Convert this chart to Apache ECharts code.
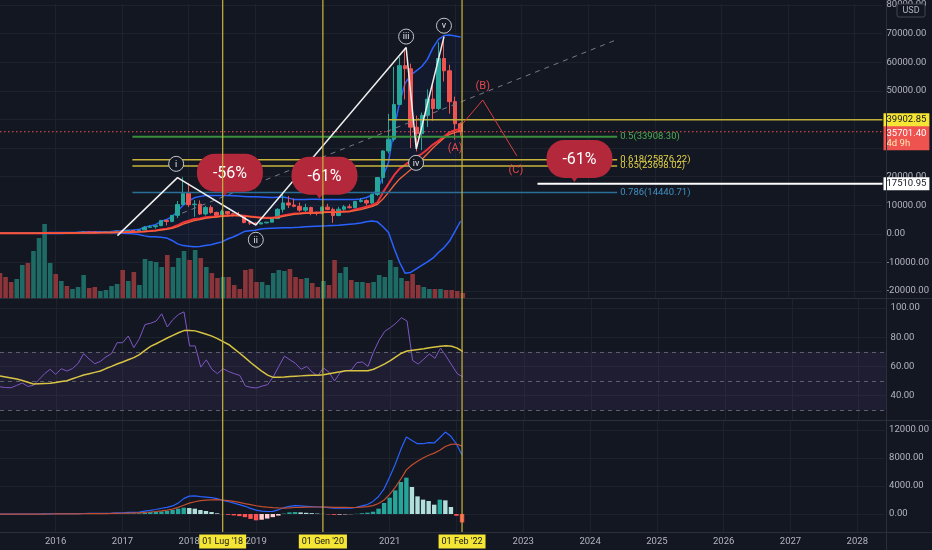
<!DOCTYPE html>
<html><head><meta charset="utf-8">
<script src="https://cdn.jsdelivr.net/npm/echarts@6/dist/echarts.min.js"></script>
<style>html,body{margin:0;padding:0;background:#131722;}#c{width:932px;height:550px;}</style>
</head><body><div id="c"></div>
<script>
// ---------- categories (monthly, from Mar 2015) ----------
const START_YEAR = 2015, START_MONTH = 3, N_CATS = 160;
const months = [];
for (let k = 0; k < N_CATS; k++) {
  const m = START_MONTH - 1 + k;
  months.push((START_YEAR + Math.floor(m / 12)) + '-' + String(m % 12 + 1).padStart(2, '0'));
}

// ---------- BTCUSD monthly OHLC [open, high, low, close] ----------
const ohlc = [
[254,300,235,244],[244,261,215,236],[236,248,228,230],[230,267,221,263],[263,318,255,284],[284,285,198,230],[230,245,225,236],[236,335,235,314],[314,502,309,377],[377,466,350,430],
[430,463,350,369],[369,446,366,437],[437,439,393,416],[416,467,414,448],[448,550,437,531],[531,778,524,673],[673,704,606,624],[624,627,480,574],[574,628,570,609],[609,720,604,700],
[700,755,685,745],[745,980,741,964],[964,1153,755,960],[960,1211,940,1190],[1190,1290,890,1071],[1071,1384,1062,1348],[1348,2763,1337,2286],[2286,2999,2138,2480],[2480,2916,1830,2875],[2875,4770,2690,4703],
[4703,5000,2975,4338],[4338,6470,4110,6468],[6468,11500,5510,10233],[10233,19800,10100,14156],[14156,17712,9400,10221],[10221,11790,6000,10397],[10397,11710,6600,6973],[6973,9760,6430,9240],[9240,9990,7040,7494],[7494,7760,5755,6404],
[6404,8480,6070,7780],[7780,7800,5880,7037],[7037,7410,6100,6625],[6625,7680,6200,6317],[6317,6550,3650,4017],[4017,4300,3130,3742],[3742,4070,3400,3457],[3457,4200,3390,3854],[3854,4120,3670,4105],[4105,5600,4060,5350],
[5350,9000,5330,8574],[8574,13880,7450,10817],[10817,13200,9060,10085],[10085,12330,9320,9630],[9630,10950,7710,8293],[8293,10540,7300,9199],[9199,9500,6520,7569],[7569,7750,6430,7193],[7193,9580,6850,9350],[9350,10500,8450,8543],
[8543,9190,3850,6410],[6410,9470,6150,8630],[8630,10070,8110,9450],[9450,10390,8900,9140],[9140,11450,8980,11330],[11330,12480,10980,11650],[11650,12060,9880,10780],[10780,14100,10370,13800],[13800,19860,13200,19700],[19700,29300,17570,28990],
[28990,41950,28130,33110],[33110,58350,32300,45240],[45240,61780,45000,58800],[58800,64900,47000,57720],[57720,59500,30000,37300],[37300,41330,28800,35040],[35040,42400,29280,41460],[41460,50500,37330,47100],[47100,52920,39600,43820],[43820,67000,43280,61300],
[61300,69000,53250,57000],[57000,59100,42000,46210],[46210,47990,32950,38480],[38480,39000,34300,35701.40]
];
// volume (relative units)
const volume = [25,21,16,19,33,35,47,60,74,35, 24,17,12,9,11,23,10,11,7,8, 12,14,28,17,26,13,39,37,36,31, 43,31,40,47,38,48,40,31,25,20,
 21,21,13,9,28,29,16,16,13,25, 28,27,29,21,19,20,15,11,17,13, 38,25,31,18,16,16,15,16,23,21, 38,31,20,17,24,13,11,9,9,9, 8,8,7,5];
// Bollinger bands
const bbUpper = [320,310,290,290,310,320,320,350,420,460, 480,490,490,490,540,700,760,770,760,760, 800,980,1080,1250,1320,1500,2300,2800,3200,4300,
 5000,6000,8000,10000,11500,12600,13100,13400,13400,13400, 13400,13400,13300,13200,13100,13000,13000,12900,12800,12700, 12800,12900,12500,12000,12000,12000,12100,12100,12000,12000,
 12000,12000,12000,12000,12000,12200,12700,13500,15500,20000, 25000,37000,46000,52700,55500,57000,58500,61000,65000,68000, 69300,69500,69200,68800];
const bbLower = [180,190,200,200,210,200,200,190,160,140, 150,170,190,210,250,250,300,380,450,480, 400,300,200,100,0,-200,-700,-1000,-1000,-1200,
 -1400,-2300,-3500,-4100,-4300,-4500,-4400,-4100,-3800,-3300, -2800,-1800,-1100,-200,800,1100,1300,1700,1900,2000, 2050,2100,2150,2200,2300,2500,2600,2700,2750,2800,
 2900,3000,3200,3400,3500,3800,4200,4500,4200,2500, 500,-5000,-10000,-13800,-13500,-12200,-11000,-9800,-8500,-6500, -4800,-2500,1000,4500];
// moving averages (two red lines)
const maFast = [260,255,250,252,255,253,252,258,270,285, 293,305,313,323,340,370,393,410,428,453, 480,525,565,620,665,730,870,1020,1200,1530,
 1800,2250,3000,4000,4600,5200,5400,5800,6000,6100, 6300,6400,6500,6500,6300,6100,5900,5700,5600,5600, 5900,6400,6800,7100,7200,7400,7400,7400,7600,7700,
 7600,7700,7800,7900,8500,9000,9500,10000,11000,14500, 17500,20500,22800,24100,25500,26900,28000,29500,31200,32500, 34000,35500,36300,36600];
const maSlow = [255,252,248,248,250,250,250,254,262,275, 283,293,302,312,326,352,375,392,410,433, 458,498,535,585,630,690,800,930,1080,1350,
 1600,1950,2550,3400,4000,4600,5000,5400,5700,5900, 6100,6300,6400,6400,6200,6000,5800,5600,5500,5500, 5700,6100,6500,6800,7000,7200,7300,7300,7400,7500,
 7500,7600,7700,7800,8100,8500,9000,9500,10300,12200, 14500,17000,19200,20800,22500,24300,26000,28000,30000,31800, 33500,34800,35500,35900];
// RSI and its moving average
const rsi = [46,45.5,45.4,47,48.6,46.3,47,51,55,58, 54.5,58.4,56.8,58.5,62,68.7,65,61.8,63.4,66.5, 68.7,76.2,76.2,80.8,72.8,79,88.6,89.5,91,96,
 87,92,95.5,97.3,74,74,59.5,64.5,58,55, 58.4,56.5,55,53.8,46.6,45.6,45.2,46.5,47.5,52.8, 60,67,64.5,62,58,60,56,53.5,59,56,
 50,55.8,57,57.5,62.6,63,60,70,78,84, 86.5,89.5,93.3,91,64,61.6,65,68.5,65.5,72.5, 67,61,55,52.8];
const rsiMa = [53.4,52.8,52.1,51.4,50.3,49.1,47.9,48.1,48.3,48.4, 49,49.6,50.2,51.5,52.8,54.1,55,55.9,56.8,58.5, 60,61.6,63,64.5,66,68,71,73.7,75.5,77.5,
 79.4,81.2,83,84.5,84.6,84.3,83.2,82,80.7,79, 77,75,72,69,65.8,62.5,59.5,56.5,54,52.5, 52.6,52.8,53.1,53.3,53.5,53.7,53.9,54,54.3,55,
 55.7,56.3,57,57,57,57,57,58,59.8,61.7, 64,66.5,69,70.5,71,71.5,72,72.8,73.3,73.8, 74.2,73.8,72.5,70.1];
// MACD
const macd = [-20,-25,-28,-25,-18,-20,-20,-10,10,30, 35,40,40,42,48,70,80,85,90,100, 115,150,180,220,240,280,420,520,640,820,
 950,1150,1550,2200,2550,2600,2480,2420,2350,2200, 1950,1780,1550,1350,1100,800,550,400,360,380, 600,900,1100,1200,1150,1100,1050,1000,1000,920,
 850,850,850,850,950,1150,1350,1800,2500,3600, 5300,7100,9200,11000,10500,10040,10040,10200,10150,10900, 11700,11100,10000,8400];
const macdSignal = [-10,-15,-18,-20,-20,-20,-20,-18,-12,-3, 5,12,18,23,28,37,45,53,60,68, 77,92,110,130,150,175,225,285,355,450,
 550,700,950,1250,1550,1750,1900,1980,2030,2040, 2000,1900,1800,1650,1480,1330,1180,1050,980,920, 870,850,880,930,950,980,1000,1000,1000,990,
 960,950,940,930,950,990,1050,1200,1500,2000, 2800,3800,5000,6300,7000,7550,8000,8400,8700,9100, 9650,9950,10000,9700];
const macdHist = [-10,-10,-10,-5,2,0,0,8,22,33, 30,28,22,19,20,33,35,32,30,32, 38,58,70,90,90,105,195,280,330,370,
 430,570,760,900,850,760,570,430,280,100, -30,-120,-200,-300,-450,-700,-900,-820,-650,-450, -230,60,230,280,230,170,120,60,20,-60,
 -120,-90,-60,-30,30,110,190,330,760,1570, 2330,3380,4570,5190,3860,2520,2050,1860,1330,2050, 1950,1000,-250,-1200];

// ---------- axis tick labels ----------
const priceTicks = [-20000,-10000,0,10000,20000,30000,40000,50000,60000,70000,80000];
const rsiTicks = [40,60,80,100];
const rsiBands = [70,50,30];
const macdTicks = [0,4000,8000,12000];

// ---------- annotations (data coordinates: month index, price) ----------
const wavePts = [[21.16,-600],[31.98,19655],[46.09,3100],[73.17,65170],[75.0,29655],[80.0,68966]];
const waveLabelPts = [[31.74,24480],[46.09,-2069],[73.17,68966],[74.96,24828],[79.99,72759]];
const waveLabelText = ['i','ii','iii','iv','v'];
const abcPts = [[82.8,37240],[86.98,46793],[93.13,27241]];
const abcLabelPts = [[82.0,30000],[86.98,51620],[92.95,22310]];
const abcLabelText = ['(A)','(B)','(C)'];
const trendPts = [[32.82,7241],[111.19,67931]];
const fibRatios = ['0.5','0.618','0.65','0.786'];
const fibPrices = [33908.30,25876.22,23698.02,14440.71];
const fibFrom = 23.85, fibTo = 111.2;
const levelYellow = 39902.85, levelYellowFrom = 69.94;
const levelWhite = 17510.95, levelWhiteFrom = 96.84;
const calloutPts = [[41.43,21380],[58.46,20345],[104.4,26207]];
const calloutText = ['-56%','-61%','-61%'];
const vLines = ['2018-07','2020-01','2022-02'];
const vLineText = ["01 Lug '18","01 Gen '20","01 Feb '22"];
const countdownText = '4d 9h';

// ---------- axis ranges ----------
const PRICE_MIN = -22414, PRICE_MAX = 80345;
const RSI_MIN = 23.3, RSI_MAX = 106.8;
const MACD_MIN = -2571, MACD_MAX = 13429;

// ---------- derived structures for the library ----------
const candleData = ohlc.map(d => [d[0], d[3], d[2], d[1]]);
const volData = volume.map((v, i) => ({value: v, itemStyle: {color: ohlc[i][3] >= ohlc[i][0] ? '#1e6a64' : '#8a3539'}}));
const bbDiff = bbUpper.map((u, i) => u - bbLower[i]);
const histData = macdHist.map((v, i) => {
  const p = i > 0 ? macdHist[i-1] : 0;
  const c = v >= 0 ? (v >= p ? '#26a69a' : '#b2dfdb') : (v < p ? '#ff5252' : '#ffcdd2');
  return {value: v, itemStyle: {color: c}};
});
const closeLast = ohlc[ohlc.length-1][3];
const vLineData = vLines.map(m => [m]);

const isJan = (idx, val) => val.slice(5) === '01';
const AX_COL = '#b2b5be', GRID_COL = '#1e222d', YEL = '#c4b03a';
const fibColors = ['#388e3c','#c9b43b','#c9b43b','#2a6f97'];
const fibLabelColors = ['#4caf50','#e3d24a','#e3d24a','#3f8fc0'];

function catAxis(g, showLabels, showSplit) {
  return {type:'category', gridIndex:g, data:months, boundaryGap:false,
    axisLine:{show:false}, axisTick:{show:false},
    axisLabel:{show:showLabels, interval:isJan, color:AX_COL, fontSize:9.5, margin:5,
      formatter: v => (v === '2020-01' || v === '2022-01') ? '' : v.slice(0,4)},
    splitLine:{show:showSplit, interval:isJan, lineStyle:{color:GRID_COL}}};
}
function yAx(g, min, max, ticks) {
  return {type:'value', gridIndex:g, position:'right', min:min, max:max,
    axisLine:{show:false}, axisTick:{show:false, customValues:ticks},
    axisLabel:{customValues:ticks, color:AX_COL, fontSize:9.5, margin:4, formatter: v => v.toFixed(2)},
    splitLine:{show:true, lineStyle:{color:GRID_COL}}};
}
// vertical yellow date lines through all panes: positioned by the MACD pane's x scale,
// running from the bottom of the time axis pane up to the top of the chart
const vLineSeries = {name:'vlines', type:'custom', xAxisIndex:3, yAxisIndex:3, data:vLineData, clip:false, z:30, silent:true,
  renderItem: function (params, api) {
    const bot = api.coord([api.value(0), MACD_MIN]);
    const x = bot[0];
    return {type:'group', children:[
      {type:'line', shape:{x1:x, y1:0, x2:x, y2:bot[1]}, style:{stroke:YEL, lineWidth:1.25, opacity:1}},
      {type:'text', style:{text:vLineText[params.dataIndex], x:x, y:bot[1] + 9.5, align:'center', verticalAlign:'middle',
        fill:'#131722', fontSize:9, fontFamily:'Roboto', backgroundColor:'#f5e534', padding:[3,3,2,3]}}
    ]};
  }};

function renderCallout(params, api) {
  const p = api.coord([api.value(0), api.value(1)]);
  const cx = p[0], cy = p[1], w = 66, h = 38;
  return {type:'group', children:[
    {type:'polygon', shape:{points:[[cx-10,cy+h/2-3],[cx,cy+h/2-3],[cx-5,cy+h/2+4]]}, style:{fill:'#b3283a'}},
    {type:'rect', shape:{x:cx-w/2, y:cy-h/2, width:w, height:h, r:18}, style:{fill:'#b3283a'}},
    {type:'text', style:{text:calloutText[params.dataIndex], x:cx, y:cy+1, align:'center', verticalAlign:'middle',
      fill:'#ffffff', fontSize:16, fontFamily:'Roboto'}}
  ]};
}
function renderWaveLabel(params, api) {
  const p = api.coord([api.value(0), api.value(1)]);
  return {type:'group', children:[
    {type:'circle', shape:{cx:p[0], cy:p[1], r:7.5}, style:{fill:'#131722', stroke:'#c3c6ce', lineWidth:1}},
    {type:'text', style:{text:waveLabelText[params.dataIndex], x:p[0], y:p[1]+0.5, align:'center', verticalAlign:'middle',
      fill:'#e0e3eb', fontSize:9, fontFamily:'Roboto'}}
  ]};
}
function renderAbcLabel(params, api) {
  const p = api.coord([api.value(0), api.value(1)]);
  return {type:'text', style:{text:abcLabelText[params.dataIndex], x:p[0], y:p[1], align:'center', verticalAlign:'middle',
    fill:'#e2474c', fontSize:11, fontFamily:'Roboto'}};
}

function levelSeries(name, price, from, to, lineColor, width, labelOpt, lineType) {
  return {name:name, type:'line', xAxisIndex:4, yAxisIndex:0, data:[[from, price],[to, price]], symbol:'none',
    lineStyle:{color:lineColor, width:width, type:lineType || 'solid'}, z:6, silent:true,
    endLabel:Object.assign({show:true, distance:3}, labelOpt)};
}

const fibSeries = fibPrices.map((v, k) => levelSeries('fib' + k, v, fibFrom, fibTo, fibColors[k], k === 0 ? 2 : 1.5,
  {formatter: fibRatios[k] + '(' + v.toFixed(2) + ')', color:fibLabelColors[k], fontSize:9.5}));

const option = {
  backgroundColor:'#131722',
  animation:false,
  textStyle:{fontFamily:'Roboto, "Noto Sans", sans-serif'},
  grid:[
    {left:0, right:45.4, top:0, height:298},
    {left:0, right:45.4, top:198, height:100},
    {left:0, right:45.4, top:298, height:122},
    {left:0, right:45.4, top:420, height:112}
  ],
  xAxis:[
    catAxis(0,false,true), catAxis(1,false,false), catAxis(2,false,true), catAxis(3,true,true),
    {type:'value', gridIndex:0, min:0, max:N_CATS-1, show:false, position:'top'}
  ],
  yAxis:[
    yAx(0, PRICE_MIN, PRICE_MAX, priceTicks),
    {type:'value', gridIndex:1, min:0, max:100, show:false},
    yAx(2, RSI_MIN, RSI_MAX, rsiTicks),
    yAx(3, MACD_MIN, MACD_MAX, macdTicks)
  ],
  series:[
    {name:'Volume', type:'bar', xAxisIndex:1, yAxisIndex:1, data:volData, barWidth:4.6, z:1, silent:true},
    {name:'BB lower', type:'line', xAxisIndex:0, yAxisIndex:0, data:bbLower, stack:'bb', stackStrategy:'all',
      symbol:'none', lineStyle:{color:'#2962ff', width:1.5}, z:3, silent:true},
    {name:'BB upper', type:'line', xAxisIndex:0, yAxisIndex:0, data:bbDiff, stack:'bb', stackStrategy:'all',
      symbol:'none', lineStyle:{color:'#2962ff', width:1.5}, areaStyle:{color:'rgba(41,98,255,0.07)'}, z:3, silent:true},
    {name:'BTCUSD', type:'candlestick', xAxisIndex:0, yAxisIndex:0, data:candleData, barWidth:4, z:4, silent:true,
      itemStyle:{color:'#26a69a', color0:'#ef5350', borderColor:'#26a69a', borderColor0:'#ef5350', borderWidth:1}},
    {name:'MA fast', type:'line', xAxisIndex:0, yAxisIndex:0, data:maFast, symbol:'none', lineStyle:{color:'#f0323c', width:2}, z:5, silent:true},
    {name:'MA slow', type:'line', xAxisIndex:0, yAxisIndex:0, data:maSlow, symbol:'none', lineStyle:{color:'#f5653a', width:1.3}, z:5, silent:true},
    levelSeries('price', closeLast, 0, N_CATS-1, '#ef5350', 1,
      {distance:1, formatter:'{a|' + closeLast.toFixed(2) + '}\n{b|' + countdownText + '}', backgroundColor:'#ef5350',
       padding:[3,3,2,3], offset:[0,6], rich:{a:{color:'#ffffff', fontSize:9.5, lineHeight:10}, b:{color:'#ffe9b0', fontSize:9.5, lineHeight:10}}},
      [1.5,2.5]),
    {name:'Trend', type:'line', xAxisIndex:4, yAxisIndex:0, data:trendPts, symbol:'none',
      lineStyle:{color:'#787b86', width:1, type:[5,5]}, z:5, silent:true}
  ].concat(fibSeries).concat([
    levelSeries('lvlY', levelYellow, levelYellowFrom, N_CATS-1, '#bfae3c', 1.5,
      {distance:1, formatter: levelYellow.toFixed(2), color:'#131722', fontSize:9.5, backgroundColor:'#f5e534', padding:[2,3,1,3]}),
    levelSeries('lvlW', levelWhite, levelWhiteFrom, N_CATS-1, '#ffffff', 2,
      {distance:1, formatter: levelWhite.toFixed(2), color:'#131722', fontSize:9.5, backgroundColor:'#ffffff', padding:[2,3,1,3]}),
    {name:'Wave', type:'line', xAxisIndex:4, yAxisIndex:0, data:wavePts, symbol:'none', lineStyle:{color:'#eeeeee', width:1.5}, z:7, silent:true},
    {name:'ABC', type:'line', xAxisIndex:4, yAxisIndex:0, data:abcPts, symbol:'none', lineStyle:{color:'#d8413f', width:1}, z:7, silent:true},
    {name:'Wave labels', type:'custom', xAxisIndex:4, yAxisIndex:0, data:waveLabelPts, renderItem:renderWaveLabel, clip:false, z:8, silent:true},
    {name:'ABC labels', type:'custom', xAxisIndex:4, yAxisIndex:0, data:abcLabelPts, renderItem:renderAbcLabel, clip:false, z:8, silent:true},
    {name:'Callouts', type:'custom', xAxisIndex:4, yAxisIndex:0, data:calloutPts, renderItem:renderCallout, clip:false, z:9, silent:true},
    {name:'RSI', type:'line', xAxisIndex:2, yAxisIndex:2, data:rsi, symbol:'none', lineStyle:{color:'#7e57c2', width:1}, z:4, silent:true,
      markArea:{silent:true, itemStyle:{color:'rgba(126,87,194,0.1)'}, data:[[{yAxis:30},{yAxis:70}]]},
      markLine:{symbol:['none','none'], silent:true, animation:false, label:{show:false},
        lineStyle:{color:'#5d606b', type:[4,4], width:1},
        data: rsiBands.map(v => ({yAxis:v}))}},
    {name:'RSI MA', type:'line', xAxisIndex:2, yAxisIndex:2, data:rsiMa, symbol:'none', lineStyle:{color:'#d8c443', width:1.5}, z:5, silent:true},
    {name:'Histogram', type:'bar', xAxisIndex:3, yAxisIndex:3, data:histData, barWidth:4.4, z:3, silent:true},
    {name:'MACD', type:'line', xAxisIndex:3, yAxisIndex:3, data:macd, symbol:'none', lineStyle:{color:'#2962ff', width:1.2}, z:4, silent:true},
    {name:'Signal', type:'line', xAxisIndex:3, yAxisIndex:3, data:macdSignal, symbol:'none', lineStyle:{color:'#c24e2e', width:1.2}, z:4, silent:true},
    vLineSeries
  ]),
  graphic:[
    {type:'line', shape:{x1:0, y1:298.5, x2:932, y2:298.5}, style:{stroke:'#2a2e39', lineWidth:1}, z:20},
    {type:'line', shape:{x1:0, y1:420.5, x2:932, y2:420.5}, style:{stroke:'#2a2e39', lineWidth:1}, z:20},
    {type:'line', shape:{x1:0, y1:532.5, x2:932, y2:532.5}, style:{stroke:'#2a2e39', lineWidth:1}, z:20},
    {type:'line', shape:{x1:886.5, y1:0, x2:886.5, y2:550}, style:{stroke:'#2a2e39', lineWidth:1}, z:20},
    {type:'rect', shape:{x:897, y:4, width:28, height:13, r:2}, style:{fill:'#131722', stroke:'#434651', lineWidth:1}, z:21},
    {type:'text', style:{text:'USD', x:911, y:10.5, align:'center', verticalAlign:'middle', fill:AX_COL, fontSize:9, fontFamily:'Roboto'}, z:22}
  ]
};
const chart = echarts.init(document.getElementById('c'), null, {renderer:'canvas'});
chart.setOption(option);
</script>
</body></html>
